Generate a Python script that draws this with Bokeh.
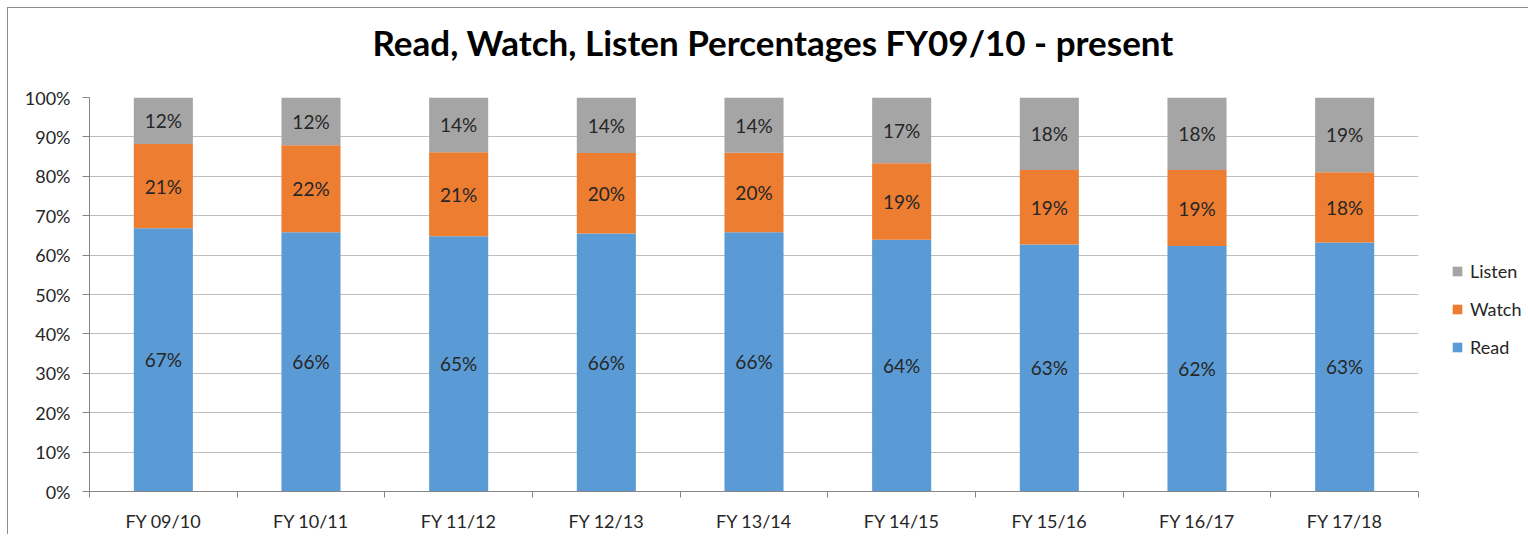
from bokeh.plotting import figure
from bokeh.models import ColumnDataSource, FixedTicker, Legend, LegendItem, LabelSet, PrintfTickFormatter, Title
from bokeh.core.properties import value
from bokeh.embed import file_html
from bokeh.resources import INLINE

categories = ["FY 09/10", "FY 10/11", "FY 11/12", "FY 12/13", "FY 13/14",
              "FY 14/15", "FY 15/16", "FY 16/17", "FY 17/18"]
read = [66.8, 65.8, 64.8, 65.5, 65.8, 63.9, 62.7, 62.3, 63.2]
watch = [21.4, 22.1, 21.3, 20.4, 20.2, 19.4, 18.9, 19.3, 17.8]
listen = [11.8, 12.1, 13.9, 14.1, 14.0, 16.7, 18.4, 18.4, 19.0]
y_ticks = [0, 10, 20, 30, 40, 50, 60, 70, 80, 90, 100]

FONT = "Lato"
TXT = "#262626"

xc = [i + 0.5 for i in range(len(categories))]
src = ColumnDataSource(dict(x=xc, cat=categories, read=read, watch=watch, listen=listen))

# label positions (segment middles)
lab_x, lab_y, lab_t = [], [], []
for i in range(len(categories)):
    b = 0.0
    for v in (read[i], watch[i], listen[i]):
        lab_x.append(xc[i])
        lab_y.append(b + v / 2)
        lab_t.append(f"{round(v):d}%")
        b += v
lab_src = ColumnDataSource(dict(x=lab_x, y=lab_y, t=lab_t))

p = figure(frame_width=1329, frame_height=394, x_range=(0, len(categories)), y_range=(0, 100),
           output_backend="svg", toolbar_location=None,
           min_border_left=81, min_border_right=102, min_border_top=89, min_border_bottom=38)
p.styles = {"margin-left": "7px", "margin-top": "7px",
            "border-left": "1px solid #8C8C8C", "border-top": "1px solid #8C8C8C"}
p.outline_line_color = None
p.background_fill_color = "white"
p.border_fill_color = "white"

p.title.text = "Read, Watch, Listen Percentages FY09/10 - present"
p.title.align = "left"
p.title.offset = 283
p.title.text_font = FONT
p.title.text_font_size = "35px"
p.title.text_font_style = "bold"
p.title.text_color = "#000000"
p.title.standoff = 0

spacer = Title(text=" ", text_font_size="10px", standoff=22)
p.add_layout(spacer, "above")

colors = ["#5B9BD5", "#ED7D31", "#A5A5A5"]
rs = p.vbar_stack(["read", "watch", "listen"], x="x", width=0.4, color=colors,
                  line_color=None, source=src)

labels = LabelSet(x="x", y="y", text="t", source=lab_src, text_align="center",
                  text_baseline="middle", text_font_size="19px", text_color=TXT,
                  text_font=value(FONT))
p.add_layout(labels)

# axes
p.yaxis.ticker = FixedTicker(ticks=y_ticks)
p.yaxis.formatter = PrintfTickFormatter(format="%d%%")
p.yaxis.axis_line_color = "#868686"
p.yaxis.major_tick_line_color = "#868686"
p.yaxis.major_tick_out = 7
p.yaxis.major_tick_in = 0
p.yaxis.minor_tick_line_color = None
p.yaxis.major_label_standoff = 12
p.yaxis.major_label_text_font = FONT
p.yaxis.major_label_text_font_size = "18px"
p.yaxis.major_label_text_color = TXT

p.xaxis.ticker = FixedTicker(ticks=xc, minor_ticks=list(range(len(categories) + 1)))
p.xaxis.major_label_overrides = {x: c for x, c in zip(xc, categories)}
p.xaxis.axis_line_color = "#868686"
p.xaxis.major_tick_line_color = None
p.xaxis.major_tick_out = 0
p.xaxis.major_tick_in = 0
p.xaxis.minor_tick_line_color = "#868686"
p.xaxis.minor_tick_out = 6
p.xaxis.minor_tick_in = 0
p.xaxis.major_label_standoff = 12
p.xaxis.major_label_text_font = FONT
p.xaxis.major_label_text_font_size = "18px"
p.xaxis.major_label_text_color = TXT

p.xgrid.grid_line_color = None
p.ygrid.grid_line_color = "#BFBFBF"
p.ygrid.ticker = FixedTicker(ticks=y_ticks)

legend = Legend(items=[LegendItem(label="Listen", renderers=[rs[2]]),
                       LegendItem(label="Watch", renderers=[rs[1]]),
                       LegendItem(label="Read", renderers=[rs[0]])],
                location=(33, 133), orientation="vertical",
                glyph_width=12, glyph_height=12, label_height=20, spacing=16,
                label_standoff=7, padding=0, margin=0,
                label_text_font=FONT, label_text_font_size="18px", label_text_color=TXT,
                border_line_color=None, background_fill_alpha=0)
p.add_layout(legend, "right")

open("out.html", "w").write(file_html(p, INLINE))
